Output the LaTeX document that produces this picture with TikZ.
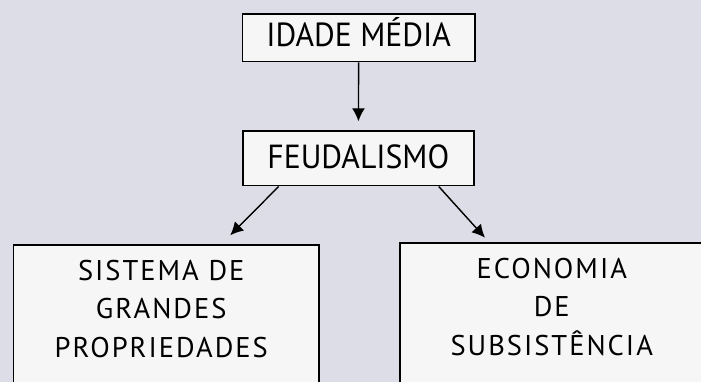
\documentclass[tikz,border=0pt]{standalone}
\usepackage{fontspec}
\setmainfont{PT Sans}
\newfontfamily\topfont[FakeStretch=0.95]{PT Sans}
\newfontfamily\lowfont[LetterSpace=7]{PT Sans}
\usepackage{xcolor}
\usetikzlibrary{arrows.meta,positioning}
\tikzset{>={Latex[length=13pt,width=13pt]}}
\definecolor{scanbg}{RGB}{221,221,231}
\definecolor{boxfill}{RGB}{246,246,246}

\begin{document}
\begin{tikzpicture}[x=1pt,y=-1pt,
              topbox/.style={draw, line width=1.5pt, fill=boxfill, inner sep=0pt,
                             text height=23.3pt, font=\topfont\fontsize{33.4}{38}\selectfont},
              bigbox/.style={draw, line width=1.5pt, fill=boxfill, inner sep=0pt,
                             anchor=north west, minimum height=200pt},
              bigtext/.style={align=center, inner sep=0pt,
                              font=\lowfont\fontsize{28.5}{38.5}\selectfont},
              link/.style={line width=1.4pt, ->},
             ]
\clip (0,0) rectangle (701,382);
\fill[scanbg] (0,0) rectangle (701,382);
% the two upper boxes
\node[topbox, text depth=5.8pt, minimum width=232.5pt, minimum height=47.7pt] (idade) at (358.7,37.9) {IDADE MÉDIA};
\node[topbox, text depth=3.4pt, minimum width=231pt, minimum height=54.7pt] (feudal) at (358.3,158.4) {FEUDALISMO};
% the two lower boxes, cut by the page edge
\node[bigbox, minimum width=305.6pt] (sistema) at (12.7,244.3) {};
\node[bigbox, minimum width=308pt] (economia) at (399,242.3) {};
\node[bigtext, below=15.5pt of sistema.north, xshift=-5pt] (sistematxt) {SISTEMA DE\\GRANDES\\PROPRIEDADES};
\node[bigtext, below=15.5pt of economia.north, xshift=-2pt] (economiatxt) {ECONOMIA\\DE\\SUBSISTÊNCIA};
\coordinate (sistematip) at (230.2,235.3);
\coordinate (economiatip) at (485,237.7);
\draw[link, shorten >=9pt] (idade) -- (feudal);
\draw[link] ([xshift=36.6pt]feudal.south west) -- (sistematip);
\draw[link] ([xshift=-35.8pt]feudal.south east) -- (economiatip);
\end{tikzpicture}
\end{document}
